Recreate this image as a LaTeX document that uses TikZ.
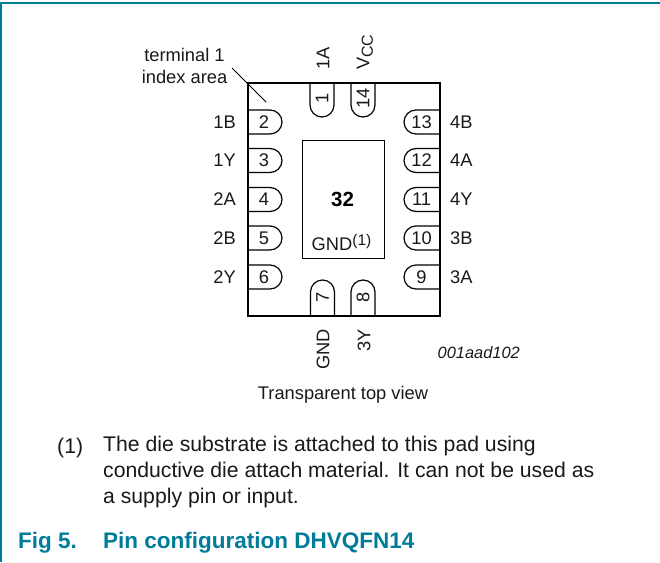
\documentclass[tikz,border=0pt]{standalone}
\usepackage{fontspec}
\setmainfont{Liberation Sans}
\definecolor{nxp}{HTML}{007C99}
\tikzset{
  x=1pt,y=-1pt,
  lbl/.style={font=\fontsize{18.3}{21.5}\selectfont,inner sep=0pt,text=black!90},
  pinnum/.style={font=\fontsize{18.3}{21.5}\selectfont,inner sep=0pt,text=black!90},
  pinrot/.style={pinnum,rotate=90},
  pinline/.style={draw=black,line width=1.2pt},
}
\begin{document}
\begin{tikzpicture}
\useasboundingbox (0,0) rectangle (660,562);
\draw[nxp,line width=2pt] (660,3) -- (0.8,3) -- (0.8,562);
% package
\node[draw=black,line width=2.4pt,minimum width=192pt,minimum height=233pt,inner sep=0pt,anchor=north west] (pkg) at (247,82) {};
\node[draw=black,line width=1.1pt,minimum width=82pt,minimum height=118pt,inner sep=0pt,anchor=north west] (pad) at (302,140) {};
\node[font=\fontsize{20.5}{24}\selectfont\bfseries,inner sep=0pt] (n32) at (342.5,199) {32};
\node[lbl,anchor=base] (gnd1) at (341.5,250) {GND\raisebox{5pt}{\fontsize{15.5}{18}\selectfont(1)}};
% left pins
\foreach \n/\yy/\s in {2/122/1B,3/160.5/1Y,4/199.5/2A,5/238/2B,6/277/2Y}{
  \draw[pinline] (247,\yy+12) -- (270,\yy+12) arc[start angle=-90,end angle=90,radius=12pt] -- (247,\yy-12);
  \node[pinnum] (p\n) at (264,\yy) {\n};
  \node[lbl,anchor=east] (s\n) at (236,\yy) {\s};
}
% right pins
\foreach \n/\yy/\s in {13/122/4B,12/160.5/4A,11/199.5/4Y,10/238/3B,9/277/3A}{
  \draw[pinline] (439,\yy+12) -- (416,\yy+12) arc[start angle=-90,end angle=-270,radius=12pt] -- (439,\yy-12);
  \node[pinnum] (p\n) at (421.5,\yy) {\n};
  \node[lbl,anchor=west] (s\n) at (450,\yy) {\s};
}
% top pins
\foreach \n/\xx in {1/322,14/363}{
  \draw[pinline] (\xx-12,82) -- (\xx-12,105) arc[start angle=180,end angle=360,radius=12pt] -- (\xx+12,82);
  \node[pinrot] (p\n) at (\xx,98) {\n};
}
% bottom pins
\foreach \n/\xx in {7/322.5,8/363}{
  \draw[pinline] (\xx-12,315) -- (\xx-12,292) arc[start angle=180,end angle=0,radius=12pt] -- (\xx+12,315);
  \node[pinrot] (p\n) at (\xx,297) {\n};
}
\node[lbl,rotate=90,anchor=west] (s1) at (323,70) {1A};
\node[lbl,rotate=90,anchor=west] (s14) at (365,70) {V\raisebox{-3.5pt}{\fontsize{16}{18}\selectfont CC}};
\node[lbl,rotate=90,anchor=east] (s7) at (323,329) {GND};
\node[lbl,rotate=90,anchor=east] (s8) at (364,329) {3Y};
% leader
\node[lbl,align=center] (term) at (184.5,66) {terminal 1\\index area};
\coordinate (la) at (232,68);
\coordinate (lb) at (266,102);
\draw[black,line width=0.8pt] (la) -- (lb);
\node[font=\fontsize{16.4}{19}\selectfont\itshape,inner sep=0pt,anchor=east,text=black!90] (code) at (520,353) {001aad102};
\node[lbl] (view) at (343,395) {Transparent top view};
\node[font=\fontsize{21.2}{26}\selectfont,inner sep=0pt,anchor=base west,text=black!90] (nt) at (57,453) {(1)};
\node[font=\fontsize{21.2}{26}\selectfont,inner sep=0pt,anchor=north west,align=left,text=black!90] (note) at (103,436) {The die substrate is attached to this pad using\\conductive die attach material. It can not be used as\\a supply pin or input.};
\node[font=\fontsize{22.5}{26}\selectfont\bfseries,text=nxp,inner sep=0pt,anchor=base west] (figl) at (18,548) {Fig 5.};
\node[font=\fontsize{22.5}{26}\selectfont\bfseries,text=nxp,inner sep=0pt,anchor=base west] (figt) at (103,548) {Pin configuration DHVQFN14};
\end{tikzpicture}
\end{document}
